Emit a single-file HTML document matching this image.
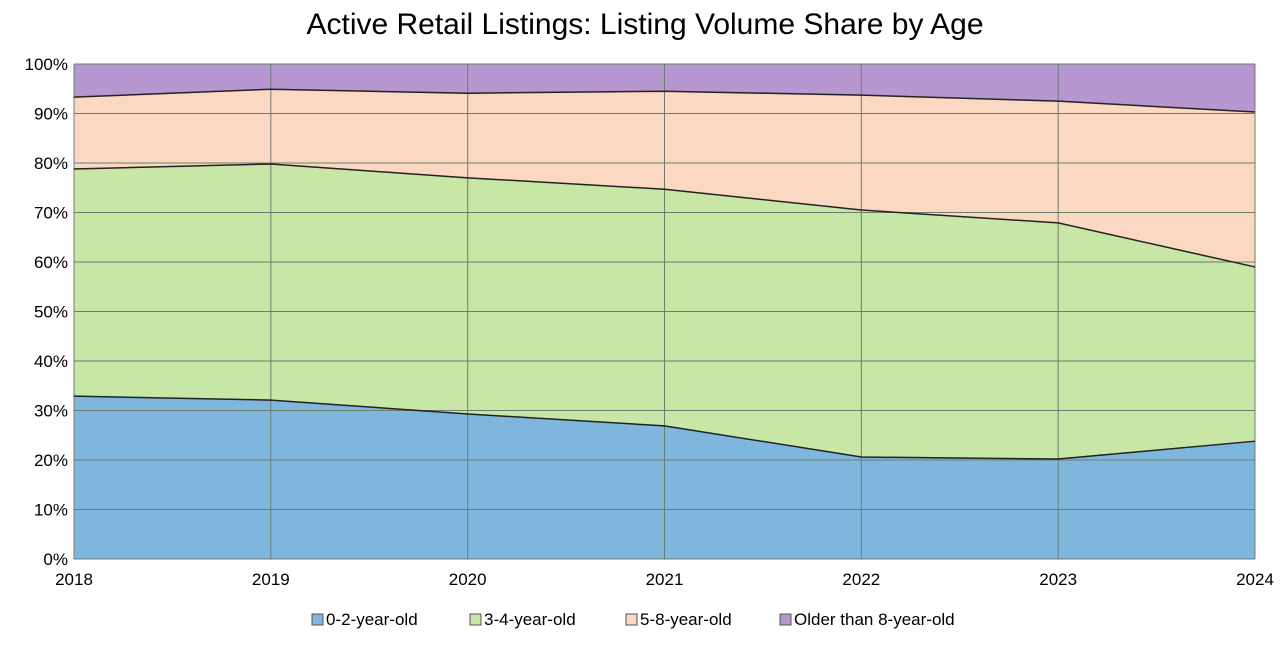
<!DOCTYPE html>
<html><head><meta charset="utf-8"><style>
body{margin:0;background:#fff;width:1284px;height:644px;overflow:hidden;font-family:"Liberation Sans",Arial,sans-serif}
</style></head><body>
<svg width="1284" height="644" xmlns="http://www.w3.org/2000/svg" id="c">
<text x="645" y="34" text-anchor="middle" font-size="30" fill="#000">Active Retail Listings: Listing Volume Share by Age</text>
</svg>
<script>
const categories=["2018","2019","2020","2021","2022","2023","2024"];
const s02=[32.9,32.1,29.3,26.9,20.6,20.2,23.8];
const s34=[45.9,47.7,47.7,47.8,49.9,47.7,35.2];
const s58=[14.5,15.1,17.1,19.8,23.2,24.6,31.3];
const sOld=[6.7,5.1,5.9,5.5,6.3,7.5,9.7];
const seriesNames=["0-2-year-old","3-4-year-old","5-8-year-old","Older than 8-year-old"];
const yTicks=[0,10,20,30,40,50,60,70,80,90,100];
const svg=document.getElementById('c');const NS="http://www.w3.org/2000/svg";
const x0=74,x1=1255,yTop=64,yBot=559;
const X=i=>x0+(x1-x0)*i/(categories.length-1);
const Y=v=>yBot-(yBot-yTop)*v/100;
function mk(t,a,p){const e=document.createElementNS(NS,t);for(const k in a)e.setAttribute(k,a[k]);(p||svg).appendChild(e);return e;}
const series=[s02,s34,s58,sOld];const colors=["#7fb6de","#c8e6a5","#fad8c1","#b697d0"];
let base=categories.map(()=>0);
series.forEach((s,k)=>{
  const top=base.map((b,i)=>b+s[i]);
  let d="M"+categories.map((c,i)=>X(i)+","+Y(top[i])).join(" L");
  for(let i=categories.length-1;i>=0;i--)d+=" L"+X(i)+","+Y(base[i]);
  const p=mk('path',{d:d+"Z",fill:colors[k],stroke:"none"});
  
  
  base=top;
});
// gridlines
yTicks.forEach(t=>{
  const l=mk('line',{x1:x0,x2:x1,y1:Y(t),y2:Y(t),stroke:"#6d7d6d","stroke-width":1});
  
  
  const tx=mk('text',{x:x0-6,y:Y(t)+6,"text-anchor":"end","font-size":17,fill:"#000"});
  tx.textContent=t+"%";
  
  
});
categories.forEach((c,i)=>{
  const l=mk('line',{x1:X(i),x2:X(i),y1:yTop,y2:yBot,stroke:"#6d7d6d","stroke-width":1});
  
  
  const tx=mk('text',{x:X(i),y:585,"text-anchor":"middle","font-size":17,fill:"#000"});
  tx.textContent=c;
  
  
});
// boundary lines
base=categories.map(()=>0);
series.slice(0,3).forEach((s,k)=>{
  base=base.map((b,i)=>b+s[i]);
  const l=mk('polyline',{points:categories.map((c,i)=>X(i)+","+Y(base[i])).join(" "),fill:"none",stroke:"#222","stroke-width":1.5});
  
  
});
// legend
const lx=[312,470,626,780];
seriesNames.forEach((n,k)=>{
  const g=mk('g',{});
  
  
  mk('rect',{x:lx[k],y:614,width:11,height:11,fill:colors[k],stroke:"#555","stroke-width":1},g);
  const t=mk('text',{x:lx[k]+14,y:625,"font-size":17,fill:"#000"},g);t.textContent=n;
});
</script>
</body></html>
